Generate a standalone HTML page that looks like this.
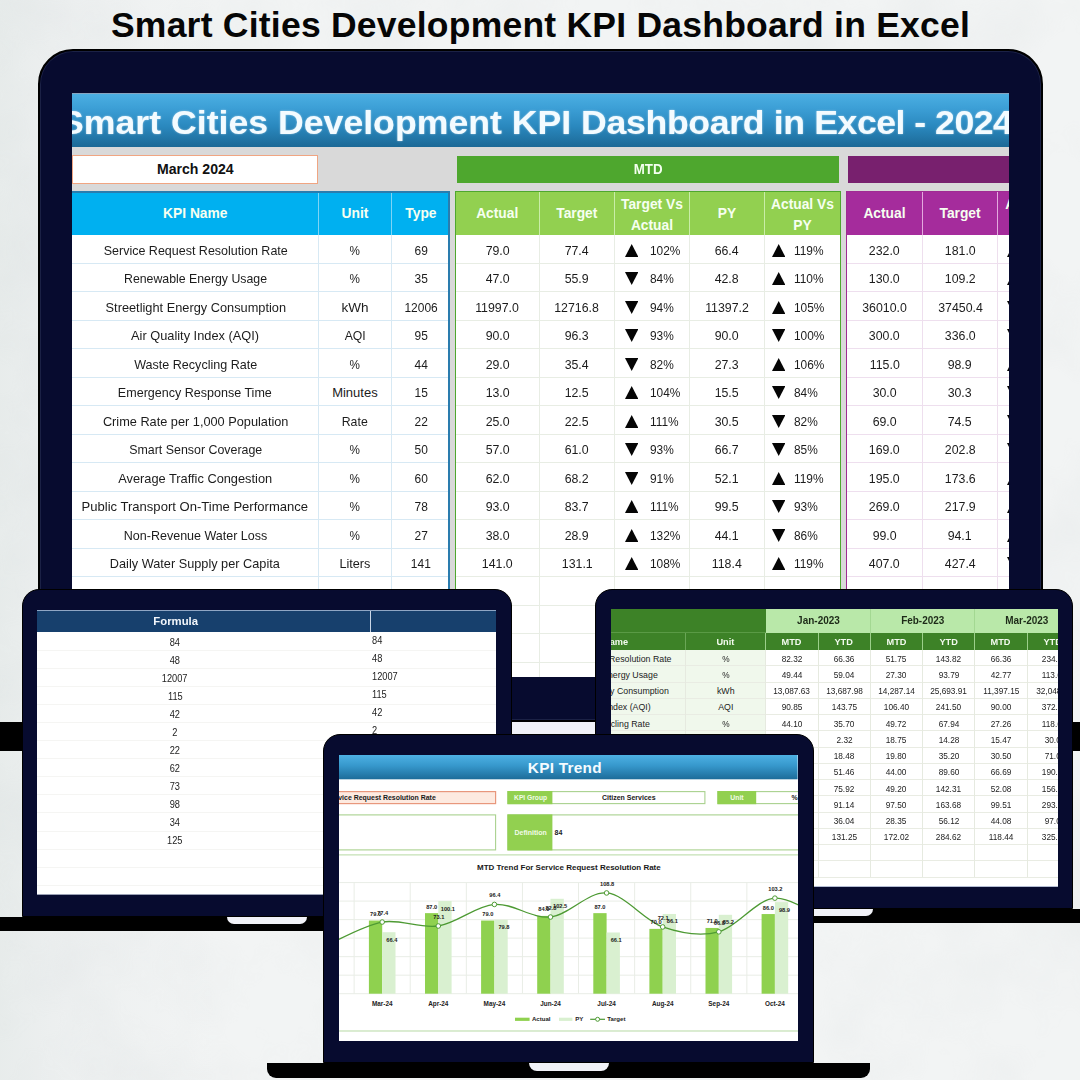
<!DOCTYPE html>
<html lang="en"><head><meta charset="utf-8">
<title>Smart Cities Development KPI Dashboard in Excel</title>
<style>
*{box-sizing:border-box;margin:0;padding:0}
html,body{width:1080px;height:1080px;overflow:hidden}
body{position:relative;background:#f2f4f4;font-family:"Liberation Sans",Arial,sans-serif;color:#1c1c1c}
.abs{position:absolute}
h1{position:absolute;left:.5px;top:2.6px;width:1080px;text-align:center;font-size:35.5px;line-height:44px;font-weight:700;color:#060606;letter-spacing:.23px;white-space:nowrap}
.frame{position:absolute;background:#070b2f;border:1.5px solid #000}
.screen{position:absolute;overflow:hidden;background:#fff}
.bar{position:absolute;background:#000}
.notch{position:absolute;background:#f1f2f8}
.n{display:inline-block;white-space:nowrap;transform:scaleX(.95)}
/* main dashboard */
#m-title{left:0;top:0;width:100%;height:54.5px;background:linear-gradient(#4cb0e3 0%,#3c9fd6 28%,#2a88be 62%,#1c6996 100%)}
#m-title span{position:absolute;left:-12.25px;top:9.7px;font-size:33.8px;line-height:40px;font-weight:700;color:#f3fbff;white-space:pre;text-shadow:0 0 2px rgba(255,255,255,.55);transform:scaleX(1.055);transform-origin:left center}
#m-title i{font-style:normal}
.hd{position:absolute;display:flex;align-items:center;justify-content:center;text-align:center;font-weight:700;font-size:13.8px;line-height:21px;color:#f6fff0}
.cell{position:absolute;display:flex;align-items:center;justify-content:center;font-size:13px;height:28.5px;white-space:nowrap}
.tri{width:13.4px;height:13px;position:absolute;top:7.5px}
.tri polygon{fill:#050505}
.vl{position:absolute;width:1px}
.hl{position:absolute;height:1px}
.hd .n{transform:none}
</style></head><body>

<svg class="abs" style="left:0;top:0" width="1080" height="1080"><defs><filter id="nz" x="0" y="0" width="100%" height="100%"><feTurbulence type="fractalNoise" baseFrequency="0.009" numOctaves="4" seed="7"/><feColorMatrix type="matrix" values="0 0 0 0 0.45  0 0 0 0 0.5  0 0 0 0 0.52  1.6 0 0 0 -0.62"/></filter><linearGradient id="lg" x1="0" x2="1"><stop offset="0" stop-color="#c3d0cc" stop-opacity=".22"/><stop offset=".06" stop-color="#c8d0d2" stop-opacity=".12"/><stop offset=".2" stop-color="#c8d0d2" stop-opacity="0"/></linearGradient></defs><rect width="1080" height="1080" fill="url(#lg)"/><rect width="1080" height="1080" filter="url(#nz)" opacity=".12"/></svg>
<h1>Smart Cities Development KPI Dashboard in Excel</h1>
<div class="bar" style="left:0;top:722px;width:1080px;height:29px"></div>
<div class="notch" style="left:470px;top:721.5px;width:160px;height:13.5px;border-radius:0 0 8px 8px"></div>
<div class="frame" style="left:37.9px;top:49.2px;width:1005.2px;height:672.4px;border-radius:35px;border-width:2.6px;box-shadow:inset 0 0 0 1px #1b2145"></div>
<div class="screen" id="ms" style="left:72.2px;top:92.5px;width:936.5px;height:584.2px;background:#d9d9d9">
<div class="abs" style="left:0;top:0;width:100%;height:1.5px;background:#86a5c0;z-index:2"></div>
<div class="abs" id="m-title"><span><i style="letter-spacing:0px">Smart Cities Development KPI </i><i style="letter-spacing:-.33px">Dashboard in </i><i style="letter-spacing:-.49px">Excel - 2024</i></span></div>
<div class="abs" style="left:0;top:62.5px;width:246.2px;height:28.5px;background:#fff;border:1.5px solid #f0a582;display:flex;align-items:center;justify-content:center;font-weight:700;font-size:14.1px;color:#111"><span>March 2024</span></div>
<div class="abs" style="left:384.8px;top:63.5px;width:382px;height:26.6px;background:#4ea72e;display:flex;align-items:center;justify-content:center;font-weight:700;font-size:14px;color:#f4fff0"><span class="n">MTD</span></div>
<div class="abs" style="left:775.8px;top:63.0px;width:200px;height:27.5px;background:#78206e"></div>
<div class="abs" style="left:-2.200000000000003px;top:98.5px;width:380.4px;height:490.70000000000005px;background:#fff"></div>
<div class="abs" style="left:-2.200000000000003px;top:98.5px;width:380.4px;height:43.80000000000001px;background:#00b0f0"></div>
<div class="hl" style="left:-2.200000000000003px;top:170.30px;width:380.4px;background:#d7e9f4"></div>
<div class="hl" style="left:-2.200000000000003px;top:198.80px;width:380.4px;background:#d7e9f4"></div>
<div class="hl" style="left:-2.200000000000003px;top:227.30px;width:380.4px;background:#d7e9f4"></div>
<div class="hl" style="left:-2.200000000000003px;top:255.80px;width:380.4px;background:#d7e9f4"></div>
<div class="hl" style="left:-2.200000000000003px;top:284.30px;width:380.4px;background:#d7e9f4"></div>
<div class="hl" style="left:-2.200000000000003px;top:312.80px;width:380.4px;background:#d7e9f4"></div>
<div class="hl" style="left:-2.200000000000003px;top:341.30px;width:380.4px;background:#d7e9f4"></div>
<div class="hl" style="left:-2.200000000000003px;top:369.80px;width:380.4px;background:#d7e9f4"></div>
<div class="hl" style="left:-2.200000000000003px;top:398.30px;width:380.4px;background:#d7e9f4"></div>
<div class="hl" style="left:-2.200000000000003px;top:426.80px;width:380.4px;background:#d7e9f4"></div>
<div class="hl" style="left:-2.200000000000003px;top:455.30px;width:380.4px;background:#d7e9f4"></div>
<div class="hl" style="left:-2.200000000000003px;top:483.80px;width:380.4px;background:#d7e9f4"></div>
<div class="hl" style="left:-2.200000000000003px;top:512.30px;width:380.4px;background:#d7e9f4"></div>
<div class="hl" style="left:-2.200000000000003px;top:540.80px;width:380.4px;background:#d7e9f4"></div>
<div class="hl" style="left:-2.200000000000003px;top:569.30px;width:380.4px;background:#d7e9f4"></div>
<div class="vl" style="left:245.70px;top:142.3px;height:441.90000000000003px;background:#d7e9f4"></div>
<div class="vl" style="left:245.70px;top:98.5px;height:43.80000000000001px;background:#7fd4f5"></div>
<div class="vl" style="left:318.80px;top:142.3px;height:441.90000000000003px;background:#d7e9f4"></div>
<div class="vl" style="left:318.80px;top:98.5px;height:43.80000000000001px;background:#7fd4f5"></div>
<div class="abs" style="left:-2.200000000000003px;top:98.5px;width:380.4px;height:490.70000000000005px;border:2px solid #2a7cae;"></div>
<div class="hd" style="left:0.0px;top:100.0px;width:246.2px;height:42.80000000000001px"><span class="n">KPI Name</span></div>
<div class="hd" style="left:246.2px;top:100.0px;width:73.10000000000002px;height:42.80000000000001px"><span class="n">Unit</span></div>
<div class="hd" style="left:319.3px;top:100.0px;width:58.89999999999998px;height:42.80000000000001px"><span class="n">Type</span></div>
<div class="abs" style="left:383.0px;top:98.5px;width:385.40000000000003px;height:490.70000000000005px;background:#fff"></div>
<div class="abs" style="left:383.0px;top:98.5px;width:385.40000000000003px;height:43.80000000000001px;background:#92d050"></div>
<div class="hl" style="left:383.0px;top:170.30px;width:385.40000000000003px;background:#e8ede4"></div>
<div class="hl" style="left:383.0px;top:198.80px;width:385.40000000000003px;background:#e8ede4"></div>
<div class="hl" style="left:383.0px;top:227.30px;width:385.40000000000003px;background:#e8ede4"></div>
<div class="hl" style="left:383.0px;top:255.80px;width:385.40000000000003px;background:#e8ede4"></div>
<div class="hl" style="left:383.0px;top:284.30px;width:385.40000000000003px;background:#e8ede4"></div>
<div class="hl" style="left:383.0px;top:312.80px;width:385.40000000000003px;background:#e8ede4"></div>
<div class="hl" style="left:383.0px;top:341.30px;width:385.40000000000003px;background:#e8ede4"></div>
<div class="hl" style="left:383.0px;top:369.80px;width:385.40000000000003px;background:#e8ede4"></div>
<div class="hl" style="left:383.0px;top:398.30px;width:385.40000000000003px;background:#e8ede4"></div>
<div class="hl" style="left:383.0px;top:426.80px;width:385.40000000000003px;background:#e8ede4"></div>
<div class="hl" style="left:383.0px;top:455.30px;width:385.40000000000003px;background:#e8ede4"></div>
<div class="hl" style="left:383.0px;top:483.80px;width:385.40000000000003px;background:#e8ede4"></div>
<div class="hl" style="left:383.0px;top:512.30px;width:385.40000000000003px;background:#e8ede4"></div>
<div class="hl" style="left:383.0px;top:540.80px;width:385.40000000000003px;background:#e8ede4"></div>
<div class="hl" style="left:383.0px;top:569.30px;width:385.40000000000003px;background:#e8ede4"></div>
<div class="vl" style="left:466.60px;top:142.3px;height:441.90000000000003px;background:#e8ede4"></div>
<div class="vl" style="left:466.60px;top:98.5px;height:43.80000000000001px;background:#c9eda8"></div>
<div class="vl" style="left:541.70px;top:142.3px;height:441.90000000000003px;background:#e8ede4"></div>
<div class="vl" style="left:541.70px;top:98.5px;height:43.80000000000001px;background:#c9eda8"></div>
<div class="vl" style="left:616.90px;top:142.3px;height:441.90000000000003px;background:#e8ede4"></div>
<div class="vl" style="left:616.90px;top:98.5px;height:43.80000000000001px;background:#c9eda8"></div>
<div class="vl" style="left:691.70px;top:142.3px;height:441.90000000000003px;background:#e8ede4"></div>
<div class="vl" style="left:691.70px;top:98.5px;height:43.80000000000001px;background:#c9eda8"></div>
<div class="abs" style="left:383.0px;top:98.5px;width:385.40000000000003px;height:490.70000000000005px;border:1.8px solid #4ea72e;"></div>
<div class="hd" style="left:383.0px;top:100.0px;width:84.09999999999997px;height:42.80000000000001px"><span class="n">Actual</span></div>
<div class="hd" style="left:467.09999999999997px;top:100.0px;width:75.10000000000002px;height:42.80000000000001px"><span class="n">Target</span></div>
<div class="hd" style="left:542.1999999999999px;top:101.5px;width:75.20000000000005px;height:42.80000000000001px"><span class="n">Target Vs<br>Actual</span></div>
<div class="hd" style="left:617.4px;top:100.0px;width:74.79999999999995px;height:42.80000000000001px"><span class="n">PY</span></div>
<div class="hd" style="left:692.1999999999999px;top:101.5px;width:76.20000000000005px;height:42.80000000000001px"><span class="n">Actual Vs<br>PY</span></div>
<div class="abs" style="left:774.1999999999999px;top:98.5px;width:225.60000000000002px;height:490.70000000000005px;background:#fff"></div>
<div class="abs" style="left:774.1999999999999px;top:98.5px;width:225.60000000000002px;height:43.80000000000001px;background:#a52c9c"></div>
<div class="hl" style="left:774.1999999999999px;top:170.30px;width:225.60000000000002px;background:#eedfee"></div>
<div class="hl" style="left:774.1999999999999px;top:198.80px;width:225.60000000000002px;background:#eedfee"></div>
<div class="hl" style="left:774.1999999999999px;top:227.30px;width:225.60000000000002px;background:#eedfee"></div>
<div class="hl" style="left:774.1999999999999px;top:255.80px;width:225.60000000000002px;background:#eedfee"></div>
<div class="hl" style="left:774.1999999999999px;top:284.30px;width:225.60000000000002px;background:#eedfee"></div>
<div class="hl" style="left:774.1999999999999px;top:312.80px;width:225.60000000000002px;background:#eedfee"></div>
<div class="hl" style="left:774.1999999999999px;top:341.30px;width:225.60000000000002px;background:#eedfee"></div>
<div class="hl" style="left:774.1999999999999px;top:369.80px;width:225.60000000000002px;background:#eedfee"></div>
<div class="hl" style="left:774.1999999999999px;top:398.30px;width:225.60000000000002px;background:#eedfee"></div>
<div class="hl" style="left:774.1999999999999px;top:426.80px;width:225.60000000000002px;background:#eedfee"></div>
<div class="hl" style="left:774.1999999999999px;top:455.30px;width:225.60000000000002px;background:#eedfee"></div>
<div class="hl" style="left:774.1999999999999px;top:483.80px;width:225.60000000000002px;background:#eedfee"></div>
<div class="hl" style="left:774.1999999999999px;top:512.30px;width:225.60000000000002px;background:#eedfee"></div>
<div class="hl" style="left:774.1999999999999px;top:540.80px;width:225.60000000000002px;background:#eedfee"></div>
<div class="hl" style="left:774.1999999999999px;top:569.30px;width:225.60000000000002px;background:#eedfee"></div>
<div class="vl" style="left:849.90px;top:142.3px;height:441.90000000000003px;background:#eedfee"></div>
<div class="vl" style="left:849.90px;top:98.5px;height:43.80000000000001px;background:#e3a9de"></div>
<div class="vl" style="left:924.90px;top:142.3px;height:441.90000000000003px;background:#eedfee"></div>
<div class="vl" style="left:924.90px;top:98.5px;height:43.80000000000001px;background:#e3a9de"></div>
<div class="abs" style="left:774.1999999999999px;top:98.5px;width:225.60000000000002px;height:490.70000000000005px;border:1.8px solid #a02b93;border-right:0;"></div>
<div class="hd" style="left:774.1999999999999px;top:100.0px;width:76.20000000000005px;height:42.80000000000001px"><span class="n">Actual</span></div>
<div class="hd" style="left:850.4px;top:100.0px;width:75.0px;height:42.80000000000001px"><span class="n">Target</span></div>
<div class="hd" style="left:927.4px;top:101.5px;width:74.39999999999998px;height:42.80000000000001px"><span class="n">Actual Vs<br>Target</span></div>
<div class="cell" style="left:0.0px;top:143.70px;width:246.2px"><span class="n" style="transform:scaleX(0.961)">Service Request Resolution Rate</span></div>
<div class="cell" style="left:246.2px;top:143.70px;width:73.10000000000002px"><span class="n" style="transform:scaleX(0.9)">%</span></div>
<div class="cell" style="left:319.3px;top:143.70px;width:58.89999999999998px"><span class="n" style="transform:scaleX(0.92)">69</span></div>
<div class="cell" style="left:383.0px;top:143.70px;width:84.09999999999997px"><span class="n" style="transform:scaleX(0.95)">79.0</span></div>
<div class="cell" style="left:467.09999999999997px;top:143.70px;width:75.10000000000002px"><span class="n" style="transform:scaleX(0.95)">77.4</span></div>
<div class="cell" style="left:542.1999999999999px;top:143.70px;width:75.20000000000005px"><svg style='left:10.199999999999978px' class="tri" viewBox="0 0 13 12" preserveAspectRatio="none"><polygon points="6.5,0 13,12 0,12"/></svg><span class="n" style="position:absolute;left:35.60000000000002px;transform-origin:left center;transform:scaleX(.915)">102%</span></div>
<div class="cell" style="left:617.4px;top:143.70px;width:74.79999999999995px"><span class="n" style="transform:scaleX(0.95)">66.4</span></div>
<div class="cell" style="left:692.1999999999999px;top:143.70px;width:76.20000000000005px"><svg style='left:7.199999999999977px' class="tri" viewBox="0 0 13 12" preserveAspectRatio="none"><polygon points="6.5,0 13,12 0,12"/></svg><span class="n" style="position:absolute;left:30.100000000000023px;transform-origin:left center;transform:scaleX(.915)">119%</span></div>
<div class="cell" style="left:774.1999999999999px;top:143.70px;width:76.20000000000005px"><span class="n" style="transform:scaleX(0.95)">232.0</span></div>
<div class="cell" style="left:850.4px;top:143.70px;width:75.0px"><span class="n" style="transform:scaleX(0.95)">181.0</span></div>
<div class="cell" style="left:925.4px;top:143.70px;width:74.39999999999998px"><svg style='left:9.099999999999955px' class="tri" viewBox="0 0 13 12" preserveAspectRatio="none"><polygon points="6.5,0 13,12 0,12"/></svg><span class="n" style="position:absolute;left:33.39999999999998px;transform-origin:left center;transform:scaleX(.915)">100%</span></div>
<div class="cell" style="left:0.0px;top:172.20px;width:246.2px"><span class="n" style="transform:scaleX(0.947)">Renewable Energy Usage</span></div>
<div class="cell" style="left:246.2px;top:172.20px;width:73.10000000000002px"><span class="n" style="transform:scaleX(0.9)">%</span></div>
<div class="cell" style="left:319.3px;top:172.20px;width:58.89999999999998px"><span class="n" style="transform:scaleX(0.92)">35</span></div>
<div class="cell" style="left:383.0px;top:172.20px;width:84.09999999999997px"><span class="n" style="transform:scaleX(0.95)">47.0</span></div>
<div class="cell" style="left:467.09999999999997px;top:172.20px;width:75.10000000000002px"><span class="n" style="transform:scaleX(0.95)">55.9</span></div>
<div class="cell" style="left:542.1999999999999px;top:172.20px;width:75.20000000000005px"><svg style='left:10.199999999999978px' class="tri" viewBox="0 0 13 12" preserveAspectRatio="none"><polygon points="0,0 13,0 6.5,12"/></svg><span class="n" style="position:absolute;left:35.60000000000002px;transform-origin:left center;transform:scaleX(.915)">84%</span></div>
<div class="cell" style="left:617.4px;top:172.20px;width:74.79999999999995px"><span class="n" style="transform:scaleX(0.95)">42.8</span></div>
<div class="cell" style="left:692.1999999999999px;top:172.20px;width:76.20000000000005px"><svg style='left:7.199999999999977px' class="tri" viewBox="0 0 13 12" preserveAspectRatio="none"><polygon points="6.5,0 13,12 0,12"/></svg><span class="n" style="position:absolute;left:30.100000000000023px;transform-origin:left center;transform:scaleX(.915)">110%</span></div>
<div class="cell" style="left:774.1999999999999px;top:172.20px;width:76.20000000000005px"><span class="n" style="transform:scaleX(0.95)">130.0</span></div>
<div class="cell" style="left:850.4px;top:172.20px;width:75.0px"><span class="n" style="transform:scaleX(0.95)">109.2</span></div>
<div class="cell" style="left:925.4px;top:172.20px;width:74.39999999999998px"><svg style='left:9.099999999999955px' class="tri" viewBox="0 0 13 12" preserveAspectRatio="none"><polygon points="6.5,0 13,12 0,12"/></svg><span class="n" style="position:absolute;left:33.39999999999998px;transform-origin:left center;transform:scaleX(.915)">100%</span></div>
<div class="cell" style="left:0.0px;top:200.70px;width:246.2px"><span class="n" style="transform:scaleX(0.983)">Streetlight Energy Consumption</span></div>
<div class="cell" style="left:246.2px;top:200.70px;width:73.10000000000002px"><span class="n" style="transform:scaleX(1.04)">kWh</span></div>
<div class="cell" style="left:319.3px;top:200.70px;width:58.89999999999998px"><span class="n" style="transform:scaleX(0.92)">12006</span></div>
<div class="cell" style="left:383.0px;top:200.70px;width:84.09999999999997px"><span class="n" style="transform:scaleX(0.95)">11997.0</span></div>
<div class="cell" style="left:467.09999999999997px;top:200.70px;width:75.10000000000002px"><span class="n" style="transform:scaleX(0.95)">12716.8</span></div>
<div class="cell" style="left:542.1999999999999px;top:200.70px;width:75.20000000000005px"><svg style='left:10.199999999999978px' class="tri" viewBox="0 0 13 12" preserveAspectRatio="none"><polygon points="0,0 13,0 6.5,12"/></svg><span class="n" style="position:absolute;left:35.60000000000002px;transform-origin:left center;transform:scaleX(.915)">94%</span></div>
<div class="cell" style="left:617.4px;top:200.70px;width:74.79999999999995px"><span class="n" style="transform:scaleX(0.95)">11397.2</span></div>
<div class="cell" style="left:692.1999999999999px;top:200.70px;width:76.20000000000005px"><svg style='left:7.199999999999977px' class="tri" viewBox="0 0 13 12" preserveAspectRatio="none"><polygon points="6.5,0 13,12 0,12"/></svg><span class="n" style="position:absolute;left:30.100000000000023px;transform-origin:left center;transform:scaleX(.915)">105%</span></div>
<div class="cell" style="left:774.1999999999999px;top:200.70px;width:76.20000000000005px"><span class="n" style="transform:scaleX(0.95)">36010.0</span></div>
<div class="cell" style="left:850.4px;top:200.70px;width:75.0px"><span class="n" style="transform:scaleX(0.95)">37450.4</span></div>
<div class="cell" style="left:925.4px;top:200.70px;width:74.39999999999998px"><svg style='left:9.099999999999955px' class="tri" viewBox="0 0 13 12" preserveAspectRatio="none"><polygon points="0,0 13,0 6.5,12"/></svg><span class="n" style="position:absolute;left:33.39999999999998px;transform-origin:left center;transform:scaleX(.915)">100%</span></div>
<div class="cell" style="left:0.0px;top:229.20px;width:246.2px"><span class="n" style="transform:scaleX(0.984)">Air Quality Index (AQI)</span></div>
<div class="cell" style="left:246.2px;top:229.20px;width:73.10000000000002px"><span class="n" style="transform:scaleX(0.94)">AQI</span></div>
<div class="cell" style="left:319.3px;top:229.20px;width:58.89999999999998px"><span class="n" style="transform:scaleX(0.92)">95</span></div>
<div class="cell" style="left:383.0px;top:229.20px;width:84.09999999999997px"><span class="n" style="transform:scaleX(0.95)">90.0</span></div>
<div class="cell" style="left:467.09999999999997px;top:229.20px;width:75.10000000000002px"><span class="n" style="transform:scaleX(0.95)">96.3</span></div>
<div class="cell" style="left:542.1999999999999px;top:229.20px;width:75.20000000000005px"><svg style='left:10.199999999999978px' class="tri" viewBox="0 0 13 12" preserveAspectRatio="none"><polygon points="0,0 13,0 6.5,12"/></svg><span class="n" style="position:absolute;left:35.60000000000002px;transform-origin:left center;transform:scaleX(.915)">93%</span></div>
<div class="cell" style="left:617.4px;top:229.20px;width:74.79999999999995px"><span class="n" style="transform:scaleX(0.95)">90.0</span></div>
<div class="cell" style="left:692.1999999999999px;top:229.20px;width:76.20000000000005px"><svg style='left:7.199999999999977px' class="tri" viewBox="0 0 13 12" preserveAspectRatio="none"><polygon points="0,0 13,0 6.5,12"/></svg><span class="n" style="position:absolute;left:30.100000000000023px;transform-origin:left center;transform:scaleX(.915)">100%</span></div>
<div class="cell" style="left:774.1999999999999px;top:229.20px;width:76.20000000000005px"><span class="n" style="transform:scaleX(0.95)">300.0</span></div>
<div class="cell" style="left:850.4px;top:229.20px;width:75.0px"><span class="n" style="transform:scaleX(0.95)">336.0</span></div>
<div class="cell" style="left:925.4px;top:229.20px;width:74.39999999999998px"><svg style='left:9.099999999999955px' class="tri" viewBox="0 0 13 12" preserveAspectRatio="none"><polygon points="0,0 13,0 6.5,12"/></svg><span class="n" style="position:absolute;left:33.39999999999998px;transform-origin:left center;transform:scaleX(.915)">100%</span></div>
<div class="cell" style="left:0.0px;top:257.70px;width:246.2px"><span class="n" style="transform:scaleX(0.965)">Waste Recycling Rate</span></div>
<div class="cell" style="left:246.2px;top:257.70px;width:73.10000000000002px"><span class="n" style="transform:scaleX(0.9)">%</span></div>
<div class="cell" style="left:319.3px;top:257.70px;width:58.89999999999998px"><span class="n" style="transform:scaleX(0.92)">44</span></div>
<div class="cell" style="left:383.0px;top:257.70px;width:84.09999999999997px"><span class="n" style="transform:scaleX(0.95)">29.0</span></div>
<div class="cell" style="left:467.09999999999997px;top:257.70px;width:75.10000000000002px"><span class="n" style="transform:scaleX(0.95)">35.4</span></div>
<div class="cell" style="left:542.1999999999999px;top:257.70px;width:75.20000000000005px"><svg style='left:10.199999999999978px' class="tri" viewBox="0 0 13 12" preserveAspectRatio="none"><polygon points="0,0 13,0 6.5,12"/></svg><span class="n" style="position:absolute;left:35.60000000000002px;transform-origin:left center;transform:scaleX(.915)">82%</span></div>
<div class="cell" style="left:617.4px;top:257.70px;width:74.79999999999995px"><span class="n" style="transform:scaleX(0.95)">27.3</span></div>
<div class="cell" style="left:692.1999999999999px;top:257.70px;width:76.20000000000005px"><svg style='left:7.199999999999977px' class="tri" viewBox="0 0 13 12" preserveAspectRatio="none"><polygon points="6.5,0 13,12 0,12"/></svg><span class="n" style="position:absolute;left:30.100000000000023px;transform-origin:left center;transform:scaleX(.915)">106%</span></div>
<div class="cell" style="left:774.1999999999999px;top:257.70px;width:76.20000000000005px"><span class="n" style="transform:scaleX(0.95)">115.0</span></div>
<div class="cell" style="left:850.4px;top:257.70px;width:75.0px"><span class="n" style="transform:scaleX(0.95)">98.9</span></div>
<div class="cell" style="left:925.4px;top:257.70px;width:74.39999999999998px"><svg style='left:9.099999999999955px' class="tri" viewBox="0 0 13 12" preserveAspectRatio="none"><polygon points="6.5,0 13,12 0,12"/></svg><span class="n" style="position:absolute;left:33.39999999999998px;transform-origin:left center;transform:scaleX(.915)">100%</span></div>
<div class="cell" style="left:0.0px;top:286.20px;width:246.2px"><span class="n" style="transform:scaleX(0.964)">Emergency Response Time</span></div>
<div class="cell" style="left:246.2px;top:286.20px;width:73.10000000000002px"><span class="n" style="transform:scaleX(1.0)">Minutes</span></div>
<div class="cell" style="left:319.3px;top:286.20px;width:58.89999999999998px"><span class="n" style="transform:scaleX(0.92)">15</span></div>
<div class="cell" style="left:383.0px;top:286.20px;width:84.09999999999997px"><span class="n" style="transform:scaleX(0.95)">13.0</span></div>
<div class="cell" style="left:467.09999999999997px;top:286.20px;width:75.10000000000002px"><span class="n" style="transform:scaleX(0.95)">12.5</span></div>
<div class="cell" style="left:542.1999999999999px;top:286.20px;width:75.20000000000005px"><svg style='left:10.199999999999978px' class="tri" viewBox="0 0 13 12" preserveAspectRatio="none"><polygon points="6.5,0 13,12 0,12"/></svg><span class="n" style="position:absolute;left:35.60000000000002px;transform-origin:left center;transform:scaleX(.915)">104%</span></div>
<div class="cell" style="left:617.4px;top:286.20px;width:74.79999999999995px"><span class="n" style="transform:scaleX(0.95)">15.5</span></div>
<div class="cell" style="left:692.1999999999999px;top:286.20px;width:76.20000000000005px"><svg style='left:7.199999999999977px' class="tri" viewBox="0 0 13 12" preserveAspectRatio="none"><polygon points="0,0 13,0 6.5,12"/></svg><span class="n" style="position:absolute;left:30.100000000000023px;transform-origin:left center;transform:scaleX(.915)">84%</span></div>
<div class="cell" style="left:774.1999999999999px;top:286.20px;width:76.20000000000005px"><span class="n" style="transform:scaleX(0.95)">30.0</span></div>
<div class="cell" style="left:850.4px;top:286.20px;width:75.0px"><span class="n" style="transform:scaleX(0.95)">30.3</span></div>
<div class="cell" style="left:925.4px;top:286.20px;width:74.39999999999998px"><svg style='left:9.099999999999955px' class="tri" viewBox="0 0 13 12" preserveAspectRatio="none"><polygon points="0,0 13,0 6.5,12"/></svg><span class="n" style="position:absolute;left:33.39999999999998px;transform-origin:left center;transform:scaleX(.915)">100%</span></div>
<div class="cell" style="left:0.0px;top:314.70px;width:246.2px"><span class="n" style="transform:scaleX(0.98)">Crime Rate per 1,000 Population</span></div>
<div class="cell" style="left:246.2px;top:314.70px;width:73.10000000000002px"><span class="n" style="transform:scaleX(0.946)">Rate</span></div>
<div class="cell" style="left:319.3px;top:314.70px;width:58.89999999999998px"><span class="n" style="transform:scaleX(0.92)">22</span></div>
<div class="cell" style="left:383.0px;top:314.70px;width:84.09999999999997px"><span class="n" style="transform:scaleX(0.95)">25.0</span></div>
<div class="cell" style="left:467.09999999999997px;top:314.70px;width:75.10000000000002px"><span class="n" style="transform:scaleX(0.95)">22.5</span></div>
<div class="cell" style="left:542.1999999999999px;top:314.70px;width:75.20000000000005px"><svg style='left:10.199999999999978px' class="tri" viewBox="0 0 13 12" preserveAspectRatio="none"><polygon points="6.5,0 13,12 0,12"/></svg><span class="n" style="position:absolute;left:35.60000000000002px;transform-origin:left center;transform:scaleX(.915)">111%</span></div>
<div class="cell" style="left:617.4px;top:314.70px;width:74.79999999999995px"><span class="n" style="transform:scaleX(0.95)">30.5</span></div>
<div class="cell" style="left:692.1999999999999px;top:314.70px;width:76.20000000000005px"><svg style='left:7.199999999999977px' class="tri" viewBox="0 0 13 12" preserveAspectRatio="none"><polygon points="0,0 13,0 6.5,12"/></svg><span class="n" style="position:absolute;left:30.100000000000023px;transform-origin:left center;transform:scaleX(.915)">82%</span></div>
<div class="cell" style="left:774.1999999999999px;top:314.70px;width:76.20000000000005px"><span class="n" style="transform:scaleX(0.95)">69.0</span></div>
<div class="cell" style="left:850.4px;top:314.70px;width:75.0px"><span class="n" style="transform:scaleX(0.95)">74.5</span></div>
<div class="cell" style="left:925.4px;top:314.70px;width:74.39999999999998px"><svg style='left:9.099999999999955px' class="tri" viewBox="0 0 13 12" preserveAspectRatio="none"><polygon points="0,0 13,0 6.5,12"/></svg><span class="n" style="position:absolute;left:33.39999999999998px;transform-origin:left center;transform:scaleX(.915)">100%</span></div>
<div class="cell" style="left:0.0px;top:343.20px;width:246.2px"><span class="n" style="transform:scaleX(0.954)">Smart Sensor Coverage</span></div>
<div class="cell" style="left:246.2px;top:343.20px;width:73.10000000000002px"><span class="n" style="transform:scaleX(0.9)">%</span></div>
<div class="cell" style="left:319.3px;top:343.20px;width:58.89999999999998px"><span class="n" style="transform:scaleX(0.92)">50</span></div>
<div class="cell" style="left:383.0px;top:343.20px;width:84.09999999999997px"><span class="n" style="transform:scaleX(0.95)">57.0</span></div>
<div class="cell" style="left:467.09999999999997px;top:343.20px;width:75.10000000000002px"><span class="n" style="transform:scaleX(0.95)">61.0</span></div>
<div class="cell" style="left:542.1999999999999px;top:343.20px;width:75.20000000000005px"><svg style='left:10.199999999999978px' class="tri" viewBox="0 0 13 12" preserveAspectRatio="none"><polygon points="0,0 13,0 6.5,12"/></svg><span class="n" style="position:absolute;left:35.60000000000002px;transform-origin:left center;transform:scaleX(.915)">93%</span></div>
<div class="cell" style="left:617.4px;top:343.20px;width:74.79999999999995px"><span class="n" style="transform:scaleX(0.95)">66.7</span></div>
<div class="cell" style="left:692.1999999999999px;top:343.20px;width:76.20000000000005px"><svg style='left:7.199999999999977px' class="tri" viewBox="0 0 13 12" preserveAspectRatio="none"><polygon points="0,0 13,0 6.5,12"/></svg><span class="n" style="position:absolute;left:30.100000000000023px;transform-origin:left center;transform:scaleX(.915)">85%</span></div>
<div class="cell" style="left:774.1999999999999px;top:343.20px;width:76.20000000000005px"><span class="n" style="transform:scaleX(0.95)">169.0</span></div>
<div class="cell" style="left:850.4px;top:343.20px;width:75.0px"><span class="n" style="transform:scaleX(0.95)">202.8</span></div>
<div class="cell" style="left:925.4px;top:343.20px;width:74.39999999999998px"><svg style='left:9.099999999999955px' class="tri" viewBox="0 0 13 12" preserveAspectRatio="none"><polygon points="0,0 13,0 6.5,12"/></svg><span class="n" style="position:absolute;left:33.39999999999998px;transform-origin:left center;transform:scaleX(.915)">100%</span></div>
<div class="cell" style="left:0.0px;top:371.70px;width:246.2px"><span class="n" style="transform:scaleX(0.985)">Average Traffic Congestion</span></div>
<div class="cell" style="left:246.2px;top:371.70px;width:73.10000000000002px"><span class="n" style="transform:scaleX(0.9)">%</span></div>
<div class="cell" style="left:319.3px;top:371.70px;width:58.89999999999998px"><span class="n" style="transform:scaleX(0.92)">60</span></div>
<div class="cell" style="left:383.0px;top:371.70px;width:84.09999999999997px"><span class="n" style="transform:scaleX(0.95)">62.0</span></div>
<div class="cell" style="left:467.09999999999997px;top:371.70px;width:75.10000000000002px"><span class="n" style="transform:scaleX(0.95)">68.2</span></div>
<div class="cell" style="left:542.1999999999999px;top:371.70px;width:75.20000000000005px"><svg style='left:10.199999999999978px' class="tri" viewBox="0 0 13 12" preserveAspectRatio="none"><polygon points="0,0 13,0 6.5,12"/></svg><span class="n" style="position:absolute;left:35.60000000000002px;transform-origin:left center;transform:scaleX(.915)">91%</span></div>
<div class="cell" style="left:617.4px;top:371.70px;width:74.79999999999995px"><span class="n" style="transform:scaleX(0.95)">52.1</span></div>
<div class="cell" style="left:692.1999999999999px;top:371.70px;width:76.20000000000005px"><svg style='left:7.199999999999977px' class="tri" viewBox="0 0 13 12" preserveAspectRatio="none"><polygon points="6.5,0 13,12 0,12"/></svg><span class="n" style="position:absolute;left:30.100000000000023px;transform-origin:left center;transform:scaleX(.915)">119%</span></div>
<div class="cell" style="left:774.1999999999999px;top:371.70px;width:76.20000000000005px"><span class="n" style="transform:scaleX(0.95)">195.0</span></div>
<div class="cell" style="left:850.4px;top:371.70px;width:75.0px"><span class="n" style="transform:scaleX(0.95)">173.6</span></div>
<div class="cell" style="left:925.4px;top:371.70px;width:74.39999999999998px"><svg style='left:9.099999999999955px' class="tri" viewBox="0 0 13 12" preserveAspectRatio="none"><polygon points="6.5,0 13,12 0,12"/></svg><span class="n" style="position:absolute;left:33.39999999999998px;transform-origin:left center;transform:scaleX(.915)">100%</span></div>
<div class="cell" style="left:0.0px;top:400.20px;width:246.2px"><span class="n" style="transform:scaleX(1.004)">Public Transport On-Time Performance</span></div>
<div class="cell" style="left:246.2px;top:400.20px;width:73.10000000000002px"><span class="n" style="transform:scaleX(0.9)">%</span></div>
<div class="cell" style="left:319.3px;top:400.20px;width:58.89999999999998px"><span class="n" style="transform:scaleX(0.92)">78</span></div>
<div class="cell" style="left:383.0px;top:400.20px;width:84.09999999999997px"><span class="n" style="transform:scaleX(0.95)">93.0</span></div>
<div class="cell" style="left:467.09999999999997px;top:400.20px;width:75.10000000000002px"><span class="n" style="transform:scaleX(0.95)">83.7</span></div>
<div class="cell" style="left:542.1999999999999px;top:400.20px;width:75.20000000000005px"><svg style='left:10.199999999999978px' class="tri" viewBox="0 0 13 12" preserveAspectRatio="none"><polygon points="6.5,0 13,12 0,12"/></svg><span class="n" style="position:absolute;left:35.60000000000002px;transform-origin:left center;transform:scaleX(.915)">111%</span></div>
<div class="cell" style="left:617.4px;top:400.20px;width:74.79999999999995px"><span class="n" style="transform:scaleX(0.95)">99.5</span></div>
<div class="cell" style="left:692.1999999999999px;top:400.20px;width:76.20000000000005px"><svg style='left:7.199999999999977px' class="tri" viewBox="0 0 13 12" preserveAspectRatio="none"><polygon points="0,0 13,0 6.5,12"/></svg><span class="n" style="position:absolute;left:30.100000000000023px;transform-origin:left center;transform:scaleX(.915)">93%</span></div>
<div class="cell" style="left:774.1999999999999px;top:400.20px;width:76.20000000000005px"><span class="n" style="transform:scaleX(0.95)">269.0</span></div>
<div class="cell" style="left:850.4px;top:400.20px;width:75.0px"><span class="n" style="transform:scaleX(0.95)">217.9</span></div>
<div class="cell" style="left:925.4px;top:400.20px;width:74.39999999999998px"><svg style='left:9.099999999999955px' class="tri" viewBox="0 0 13 12" preserveAspectRatio="none"><polygon points="6.5,0 13,12 0,12"/></svg><span class="n" style="position:absolute;left:33.39999999999998px;transform-origin:left center;transform:scaleX(.915)">100%</span></div>
<div class="cell" style="left:0.0px;top:428.70px;width:246.2px"><span class="n" style="transform:scaleX(0.9625)">Non-Revenue Water Loss</span></div>
<div class="cell" style="left:246.2px;top:428.70px;width:73.10000000000002px"><span class="n" style="transform:scaleX(0.9)">%</span></div>
<div class="cell" style="left:319.3px;top:428.70px;width:58.89999999999998px"><span class="n" style="transform:scaleX(0.92)">27</span></div>
<div class="cell" style="left:383.0px;top:428.70px;width:84.09999999999997px"><span class="n" style="transform:scaleX(0.95)">38.0</span></div>
<div class="cell" style="left:467.09999999999997px;top:428.70px;width:75.10000000000002px"><span class="n" style="transform:scaleX(0.95)">28.9</span></div>
<div class="cell" style="left:542.1999999999999px;top:428.70px;width:75.20000000000005px"><svg style='left:10.199999999999978px' class="tri" viewBox="0 0 13 12" preserveAspectRatio="none"><polygon points="6.5,0 13,12 0,12"/></svg><span class="n" style="position:absolute;left:35.60000000000002px;transform-origin:left center;transform:scaleX(.915)">132%</span></div>
<div class="cell" style="left:617.4px;top:428.70px;width:74.79999999999995px"><span class="n" style="transform:scaleX(0.95)">44.1</span></div>
<div class="cell" style="left:692.1999999999999px;top:428.70px;width:76.20000000000005px"><svg style='left:7.199999999999977px' class="tri" viewBox="0 0 13 12" preserveAspectRatio="none"><polygon points="0,0 13,0 6.5,12"/></svg><span class="n" style="position:absolute;left:30.100000000000023px;transform-origin:left center;transform:scaleX(.915)">86%</span></div>
<div class="cell" style="left:774.1999999999999px;top:428.70px;width:76.20000000000005px"><span class="n" style="transform:scaleX(0.95)">99.0</span></div>
<div class="cell" style="left:850.4px;top:428.70px;width:75.0px"><span class="n" style="transform:scaleX(0.95)">94.1</span></div>
<div class="cell" style="left:925.4px;top:428.70px;width:74.39999999999998px"><svg style='left:9.099999999999955px' class="tri" viewBox="0 0 13 12" preserveAspectRatio="none"><polygon points="6.5,0 13,12 0,12"/></svg><span class="n" style="position:absolute;left:33.39999999999998px;transform-origin:left center;transform:scaleX(.915)">100%</span></div>
<div class="cell" style="left:0.0px;top:457.20px;width:246.2px"><span class="n" style="transform:scaleX(0.979)">Daily Water Supply per Capita</span></div>
<div class="cell" style="left:246.2px;top:457.20px;width:73.10000000000002px"><span class="n" style="transform:scaleX(0.975)">Liters</span></div>
<div class="cell" style="left:319.3px;top:457.20px;width:58.89999999999998px"><span class="n" style="transform:scaleX(0.92)">141</span></div>
<div class="cell" style="left:383.0px;top:457.20px;width:84.09999999999997px"><span class="n" style="transform:scaleX(0.95)">141.0</span></div>
<div class="cell" style="left:467.09999999999997px;top:457.20px;width:75.10000000000002px"><span class="n" style="transform:scaleX(0.95)">131.1</span></div>
<div class="cell" style="left:542.1999999999999px;top:457.20px;width:75.20000000000005px"><svg style='left:10.199999999999978px' class="tri" viewBox="0 0 13 12" preserveAspectRatio="none"><polygon points="6.5,0 13,12 0,12"/></svg><span class="n" style="position:absolute;left:35.60000000000002px;transform-origin:left center;transform:scaleX(.915)">108%</span></div>
<div class="cell" style="left:617.4px;top:457.20px;width:74.79999999999995px"><span class="n" style="transform:scaleX(0.95)">118.4</span></div>
<div class="cell" style="left:692.1999999999999px;top:457.20px;width:76.20000000000005px"><svg style='left:7.199999999999977px' class="tri" viewBox="0 0 13 12" preserveAspectRatio="none"><polygon points="6.5,0 13,12 0,12"/></svg><span class="n" style="position:absolute;left:30.100000000000023px;transform-origin:left center;transform:scaleX(.915)">119%</span></div>
<div class="cell" style="left:774.1999999999999px;top:457.20px;width:76.20000000000005px"><span class="n" style="transform:scaleX(0.95)">407.0</span></div>
<div class="cell" style="left:850.4px;top:457.20px;width:75.0px"><span class="n" style="transform:scaleX(0.95)">427.4</span></div>
<div class="cell" style="left:925.4px;top:457.20px;width:74.39999999999998px"><svg style='left:9.099999999999955px' class="tri" viewBox="0 0 13 12" preserveAspectRatio="none"><polygon points="0,0 13,0 6.5,12"/></svg><span class="n" style="position:absolute;left:33.39999999999998px;transform-origin:left center;transform:scaleX(.915)">100%</span></div>
</div>
<div class="bar" style="left:0;top:916.7px;width:330px;height:14.5px"></div>
<div class="notch" style="left:226.7px;top:916px;width:80px;height:8.4px;border-radius:0 0 7px 7px"></div>
<div class="frame" style="left:21.6px;top:588.7px;width:490.6px;height:328.3px;border-radius:17px 17px 0 0"></div>
<div class="screen" style="left:37.0px;top:609.6px;width:459.0px;height:285.4px;border-top:1px solid #8fa6c4;border-bottom:1.5px solid #9aa0b4">
<div class="abs" style="left:0;top:0;width:100%;height:21.4px;background:#17406d"></div>
<div class="vl" style="left:332.8px;top:0;height:21.4px;background:#c9d6e6"></div>
<div class="abs" style="left:0;top:0;width:277.6px;height:21.4px;display:flex;align-items:center;justify-content:center;font-weight:700;font-size:11px;color:#f2f6fb"><span class="n" style="transform:scaleX(1.03)">Formula</span></div>
<div class="hl" style="left:0;top:39.00px;width:100%;background:#f5f5f3"></div>
<div class="hl" style="left:0;top:57.10px;width:100%;background:#f5f5f3"></div>
<div class="hl" style="left:0;top:75.20px;width:100%;background:#f5f5f3"></div>
<div class="hl" style="left:0;top:93.30px;width:100%;background:#f5f5f3"></div>
<div class="hl" style="left:0;top:111.40px;width:100%;background:#f5f5f3"></div>
<div class="hl" style="left:0;top:129.50px;width:100%;background:#f5f5f3"></div>
<div class="hl" style="left:0;top:147.60px;width:100%;background:#f5f5f3"></div>
<div class="hl" style="left:0;top:165.70px;width:100%;background:#f5f5f3"></div>
<div class="hl" style="left:0;top:183.80px;width:100%;background:#f5f5f3"></div>
<div class="hl" style="left:0;top:201.90px;width:100%;background:#f5f5f3"></div>
<div class="hl" style="left:0;top:220.00px;width:100%;background:#f5f5f3"></div>
<div class="hl" style="left:0;top:238.10px;width:100%;background:#f5f5f3"></div>
<div class="hl" style="left:0;top:256.20px;width:100%;background:#f5f5f3"></div>
<div class="hl" style="left:0;top:274.30px;width:100%;background:#f5f5f3"></div>
<div class="abs" style="left:0;top:22.20px;width:276.0px;height:18px;line-height:18px;text-align:center;font-size:10.5px;color:#222"><span class="n" style="transform:scaleX(.88)">84</span></div>
<div class="abs" style="left:334.5px;top:20.60px;height:18px;line-height:18px;font-size:10.5px;color:#222"><span class="n" style="transform-origin:left center;transform:scaleX(.88)">84</span></div>
<div class="abs" style="left:0;top:40.25px;width:276.0px;height:18px;line-height:18px;text-align:center;font-size:10.5px;color:#222"><span class="n" style="transform:scaleX(.88)">48</span></div>
<div class="abs" style="left:334.5px;top:38.65px;height:18px;line-height:18px;font-size:10.5px;color:#222"><span class="n" style="transform-origin:left center;transform:scaleX(.88)">48</span></div>
<div class="abs" style="left:0;top:58.30px;width:276.0px;height:18px;line-height:18px;text-align:center;font-size:10.5px;color:#222"><span class="n" style="transform:scaleX(.88)">12007</span></div>
<div class="abs" style="left:334.5px;top:56.70px;height:18px;line-height:18px;font-size:10.5px;color:#222"><span class="n" style="transform-origin:left center;transform:scaleX(.88)">12007</span></div>
<div class="abs" style="left:0;top:76.35px;width:276.0px;height:18px;line-height:18px;text-align:center;font-size:10.5px;color:#222"><span class="n" style="transform:scaleX(.88)">115</span></div>
<div class="abs" style="left:334.5px;top:74.75px;height:18px;line-height:18px;font-size:10.5px;color:#222"><span class="n" style="transform-origin:left center;transform:scaleX(.88)">115</span></div>
<div class="abs" style="left:0;top:94.40px;width:276.0px;height:18px;line-height:18px;text-align:center;font-size:10.5px;color:#222"><span class="n" style="transform:scaleX(.88)">42</span></div>
<div class="abs" style="left:334.5px;top:92.80px;height:18px;line-height:18px;font-size:10.5px;color:#222"><span class="n" style="transform-origin:left center;transform:scaleX(.88)">42</span></div>
<div class="abs" style="left:0;top:112.45px;width:276.0px;height:18px;line-height:18px;text-align:center;font-size:10.5px;color:#222"><span class="n" style="transform:scaleX(.88)">2</span></div>
<div class="abs" style="left:334.5px;top:110.85px;height:18px;line-height:18px;font-size:10.5px;color:#222"><span class="n" style="transform-origin:left center;transform:scaleX(.88)">2</span></div>
<div class="abs" style="left:0;top:130.50px;width:276.0px;height:18px;line-height:18px;text-align:center;font-size:10.5px;color:#222"><span class="n" style="transform:scaleX(.88)">22</span></div>
<div class="abs" style="left:334.5px;top:128.90px;height:18px;line-height:18px;font-size:10.5px;color:#222"><span class="n" style="transform-origin:left center;transform:scaleX(.88)">22</span></div>
<div class="abs" style="left:0;top:148.55px;width:276.0px;height:18px;line-height:18px;text-align:center;font-size:10.5px;color:#222"><span class="n" style="transform:scaleX(.88)">62</span></div>
<div class="abs" style="left:334.5px;top:146.95px;height:18px;line-height:18px;font-size:10.5px;color:#222"><span class="n" style="transform-origin:left center;transform:scaleX(.88)">62</span></div>
<div class="abs" style="left:0;top:166.60px;width:276.0px;height:18px;line-height:18px;text-align:center;font-size:10.5px;color:#222"><span class="n" style="transform:scaleX(.88)">73</span></div>
<div class="abs" style="left:334.5px;top:165.00px;height:18px;line-height:18px;font-size:10.5px;color:#222"><span class="n" style="transform-origin:left center;transform:scaleX(.88)">73</span></div>
<div class="abs" style="left:0;top:184.65px;width:276.0px;height:18px;line-height:18px;text-align:center;font-size:10.5px;color:#222"><span class="n" style="transform:scaleX(.88)">98</span></div>
<div class="abs" style="left:334.5px;top:183.05px;height:18px;line-height:18px;font-size:10.5px;color:#222"><span class="n" style="transform-origin:left center;transform:scaleX(.88)">98</span></div>
<div class="abs" style="left:0;top:202.70px;width:276.0px;height:18px;line-height:18px;text-align:center;font-size:10.5px;color:#222"><span class="n" style="transform:scaleX(.88)">34</span></div>
<div class="abs" style="left:334.5px;top:201.10px;height:18px;line-height:18px;font-size:10.5px;color:#222"><span class="n" style="transform-origin:left center;transform:scaleX(.88)">34</span></div>
<div class="abs" style="left:0;top:220.75px;width:276.0px;height:18px;line-height:18px;text-align:center;font-size:10.5px;color:#222"><span class="n" style="transform:scaleX(.88)">125</span></div>
<div class="abs" style="left:334.5px;top:219.15px;height:18px;line-height:18px;font-size:10.5px;color:#222"><span class="n" style="transform-origin:left center;transform:scaleX(.88)">125</span></div>
</div>
<div class="bar" style="left:800px;top:908.5px;width:280px;height:14.6px"></div>
<div class="notch" style="left:780px;top:908px;width:93.2px;height:8px;border-radius:0 0 7px 7px"></div>
<div class="frame" style="left:595.3px;top:588.6px;width:477.3px;height:320.6px;border-radius:17px 17px 0 0"></div>
<div class="screen" style="left:611.0px;top:608.75px;width:446.5px;height:278.45000000000005px;font-size:10px;border-bottom:1.5px solid #b4bdd3">
<div class="abs" style="left:0;top:0;width:154.75px;height:40.85000000000002px;background:#3d8227"></div>
<div class="abs" style="left:154.75px;top:0;width:400px;height:23.850000000000023px;background:#b9e8a9"></div>
<div class="abs" style="left:154.75px;top:23.850000000000023px;width:400px;height:17.0px;background:#3d8227"></div>
<div class="hl" style="left:0;top:23.350000000000023px;width:154.75px;background:#5a9a45"></div>
<div class="abs" style="left:0;top:40.85000000000002px;width:154.75px;height:195.0px;background:#f0f8ec"></div>
<div class="hl" style="left:0;top:56.60px;width:100%;background:#e9ece3"></div>
<div class="hl" style="left:0;top:72.85px;width:100%;background:#e9ece3"></div>
<div class="hl" style="left:0;top:89.10px;width:100%;background:#e9ece3"></div>
<div class="hl" style="left:0;top:105.35px;width:100%;background:#e9ece3"></div>
<div class="hl" style="left:0;top:121.60px;width:100%;background:#e9ece3"></div>
<div class="hl" style="left:0;top:137.85px;width:100%;background:#e9ece3"></div>
<div class="hl" style="left:0;top:154.10px;width:100%;background:#e9ece3"></div>
<div class="hl" style="left:0;top:170.35px;width:100%;background:#e9ece3"></div>
<div class="hl" style="left:0;top:186.60px;width:100%;background:#e9ece3"></div>
<div class="hl" style="left:0;top:202.85px;width:100%;background:#e9ece3"></div>
<div class="hl" style="left:0;top:219.10px;width:100%;background:#e9ece3"></div>
<div class="hl" style="left:0;top:235.35px;width:100%;background:#e9ece3"></div>
<div class="hl" style="left:0;top:251.60px;width:100%;background:#e9ece3"></div>
<div class="hl" style="left:0;top:267.85px;width:100%;background:#e9ece3"></div>
<div class="vl" style="left:74.25px;top:40.85000000000002px;height:227.29999999999995px;background:#e6eae0"></div>
<div class="vl" style="left:154.25px;top:40.85000000000002px;height:227.29999999999995px;background:#e6eae0"></div>
<div class="vl" style="left:154.25px;top:23.850000000000023px;height:17.0px;background:#9ccf8a"></div>
<div class="vl" style="left:206.50px;top:40.85000000000002px;height:227.29999999999995px;background:#e6eae0"></div>
<div class="vl" style="left:206.50px;top:23.850000000000023px;height:17.0px;background:#9ccf8a"></div>
<div class="vl" style="left:258.75px;top:40.85000000000002px;height:227.29999999999995px;background:#e6eae0"></div>
<div class="vl" style="left:258.75px;top:23.850000000000023px;height:17.0px;background:#9ccf8a"></div>
<div class="vl" style="left:311.00px;top:40.85000000000002px;height:227.29999999999995px;background:#e6eae0"></div>
<div class="vl" style="left:311.00px;top:23.850000000000023px;height:17.0px;background:#9ccf8a"></div>
<div class="vl" style="left:363.25px;top:40.85000000000002px;height:227.29999999999995px;background:#e6eae0"></div>
<div class="vl" style="left:363.25px;top:23.850000000000023px;height:17.0px;background:#9ccf8a"></div>
<div class="vl" style="left:415.50px;top:40.85000000000002px;height:227.29999999999995px;background:#e6eae0"></div>
<div class="vl" style="left:415.50px;top:23.850000000000023px;height:17.0px;background:#9ccf8a"></div>
<div class="vl" style="left:74.25px;top:23.850000000000023px;height:17.0px;background:#6aa656"></div>
<div class="vl" style="left:258.75px;top:0;height:23.850000000000023px;background:#a3d892"></div>
<div class="vl" style="left:363.25px;top:0;height:23.850000000000023px;background:#a3d892"></div>
<div class="abs" style="left:154.75px;top:0;width:104.5px;height:23.850000000000023px;line-height:23.850000000000023px;text-align:center;font-weight:700;font-size:10.5px;color:#1d2a18"><span class="n">Jan-2023</span></div>
<div class="abs" style="left:259.25px;top:0;width:104.5px;height:23.850000000000023px;line-height:23.850000000000023px;text-align:center;font-weight:700;font-size:10.5px;color:#1d2a18"><span class="n">Feb-2023</span></div>
<div class="abs" style="left:363.75px;top:0;width:104.5px;height:23.850000000000023px;line-height:23.850000000000023px;text-align:center;font-weight:700;font-size:10.5px;color:#1d2a18"><span class="n">Mar-2023</span></div>
<div class="abs" style="left:-83.35000000000002px;top:23.850000000000023px;width:158.10000000000002px;height:17.0px;line-height:18.0px;text-align:center;font-weight:700;font-size:9.7px;color:#f3fbef"><span class="n">KPI Name</span></div>
<div class="abs" style="left:74.75px;top:23.850000000000023px;width:80.0px;height:17.0px;line-height:18.0px;text-align:center;font-weight:700;font-size:9.7px;color:#f3fbef"><span class="n">Unit</span></div>
<div class="abs" style="left:154.75px;top:23.850000000000023px;width:52.25px;height:17.0px;line-height:18.0px;text-align:center;font-weight:700;font-size:9.7px;color:#f3fbef"><span class="n">MTD</span></div>
<div class="abs" style="left:207.0px;top:23.850000000000023px;width:52.25px;height:17.0px;line-height:18.0px;text-align:center;font-weight:700;font-size:9.7px;color:#f3fbef"><span class="n">YTD</span></div>
<div class="abs" style="left:259.25px;top:23.850000000000023px;width:52.25px;height:17.0px;line-height:18.0px;text-align:center;font-weight:700;font-size:9.7px;color:#f3fbef"><span class="n">MTD</span></div>
<div class="abs" style="left:311.5px;top:23.850000000000023px;width:52.25px;height:17.0px;line-height:18.0px;text-align:center;font-weight:700;font-size:9.7px;color:#f3fbef"><span class="n">YTD</span></div>
<div class="abs" style="left:363.75px;top:23.850000000000023px;width:52.25px;height:17.0px;line-height:18.0px;text-align:center;font-weight:700;font-size:9.7px;color:#f3fbef"><span class="n">MTD</span></div>
<div class="abs" style="left:416.0px;top:23.850000000000023px;width:52.25px;height:17.0px;line-height:18.0px;text-align:center;font-weight:700;font-size:9.7px;color:#f3fbef"><span class="n">YTD</span></div>
<div class="abs" style="left:-83.35000000000002px;top:40.85px;width:158.10000000000002px;height:16.25px;line-height:18.4px;text-align:center;white-space:nowrap;color:#1c1c1c;font-size:8.8px"><span class="n" style="transform:scaleX(1.0)">Service Request Resolution Rate</span></div>
<div class="abs" style="left:74.75px;top:40.85px;width:80.0px;height:16.25px;line-height:18.4px;text-align:center;white-space:nowrap;color:#1c1c1c;font-size:8.8px"><span class="n" style="transform:scaleX(0.94)">%</span></div>
<div class="abs" style="left:154.75px;top:40.85px;width:52.25px;height:16.25px;line-height:18.4px;text-align:center;white-space:nowrap;color:#1c1c1c;font-size:8.8px"><span class="n" style="transform:scaleX(0.94)">82.32</span></div>
<div class="abs" style="left:207.0px;top:40.85px;width:52.25px;height:16.25px;line-height:18.4px;text-align:center;white-space:nowrap;color:#1c1c1c;font-size:8.8px"><span class="n" style="transform:scaleX(0.94)">66.36</span></div>
<div class="abs" style="left:259.25px;top:40.85px;width:52.25px;height:16.25px;line-height:18.4px;text-align:center;white-space:nowrap;color:#1c1c1c;font-size:8.8px"><span class="n" style="transform:scaleX(0.94)">51.75</span></div>
<div class="abs" style="left:311.5px;top:40.85px;width:52.25px;height:16.25px;line-height:18.4px;text-align:center;white-space:nowrap;color:#1c1c1c;font-size:8.8px"><span class="n" style="transform:scaleX(0.94)">143.82</span></div>
<div class="abs" style="left:363.75px;top:40.85px;width:52.25px;height:16.25px;line-height:18.4px;text-align:center;white-space:nowrap;color:#1c1c1c;font-size:8.8px"><span class="n" style="transform:scaleX(0.94)">66.36</span></div>
<div class="abs" style="left:417.5px;top:40.85px;width:52.25px;height:16.25px;line-height:18.4px;text-align:center;white-space:nowrap;color:#1c1c1c;font-size:8.8px"><span class="n" style="transform:scaleX(0.94)">234.43</span></div>
<div class="abs" style="left:-83.35000000000002px;top:57.10px;width:158.10000000000002px;height:16.25px;line-height:18.4px;text-align:center;white-space:nowrap;color:#1c1c1c;font-size:8.8px"><span class="n" style="transform:scaleX(1.0)">Renewable Energy Usage</span></div>
<div class="abs" style="left:74.75px;top:57.10px;width:80.0px;height:16.25px;line-height:18.4px;text-align:center;white-space:nowrap;color:#1c1c1c;font-size:8.8px"><span class="n" style="transform:scaleX(0.94)">%</span></div>
<div class="abs" style="left:154.75px;top:57.10px;width:52.25px;height:16.25px;line-height:18.4px;text-align:center;white-space:nowrap;color:#1c1c1c;font-size:8.8px"><span class="n" style="transform:scaleX(0.94)">49.44</span></div>
<div class="abs" style="left:207.0px;top:57.10px;width:52.25px;height:16.25px;line-height:18.4px;text-align:center;white-space:nowrap;color:#1c1c1c;font-size:8.8px"><span class="n" style="transform:scaleX(0.94)">59.04</span></div>
<div class="abs" style="left:259.25px;top:57.10px;width:52.25px;height:16.25px;line-height:18.4px;text-align:center;white-space:nowrap;color:#1c1c1c;font-size:8.8px"><span class="n" style="transform:scaleX(0.94)">27.30</span></div>
<div class="abs" style="left:311.5px;top:57.10px;width:52.25px;height:16.25px;line-height:18.4px;text-align:center;white-space:nowrap;color:#1c1c1c;font-size:8.8px"><span class="n" style="transform:scaleX(0.94)">93.79</span></div>
<div class="abs" style="left:363.75px;top:57.10px;width:52.25px;height:16.25px;line-height:18.4px;text-align:center;white-space:nowrap;color:#1c1c1c;font-size:8.8px"><span class="n" style="transform:scaleX(0.94)">42.77</span></div>
<div class="abs" style="left:417.5px;top:57.10px;width:52.25px;height:16.25px;line-height:18.4px;text-align:center;white-space:nowrap;color:#1c1c1c;font-size:8.8px"><span class="n" style="transform:scaleX(0.94)">113.65</span></div>
<div class="abs" style="left:-83.35000000000002px;top:73.35px;width:158.10000000000002px;height:16.25px;line-height:18.4px;text-align:center;white-space:nowrap;color:#1c1c1c;font-size:8.8px"><span class="n" style="transform:scaleX(1.0)">Streetlight Energy Consumption</span></div>
<div class="abs" style="left:74.75px;top:73.35px;width:80.0px;height:16.25px;line-height:18.4px;text-align:center;white-space:nowrap;color:#1c1c1c;font-size:8.8px"><span class="n" style="transform:scaleX(1.0)">kWh</span></div>
<div class="abs" style="left:154.75px;top:73.35px;width:52.25px;height:16.25px;line-height:18.4px;text-align:center;white-space:nowrap;color:#1c1c1c;font-size:8.8px"><span class="n" style="transform:scaleX(0.94)">13,087.63</span></div>
<div class="abs" style="left:207.0px;top:73.35px;width:52.25px;height:16.25px;line-height:18.4px;text-align:center;white-space:nowrap;color:#1c1c1c;font-size:8.8px"><span class="n" style="transform:scaleX(0.94)">13,687.98</span></div>
<div class="abs" style="left:259.25px;top:73.35px;width:52.25px;height:16.25px;line-height:18.4px;text-align:center;white-space:nowrap;color:#1c1c1c;font-size:8.8px"><span class="n" style="transform:scaleX(0.94)">14,287.14</span></div>
<div class="abs" style="left:311.5px;top:73.35px;width:52.25px;height:16.25px;line-height:18.4px;text-align:center;white-space:nowrap;color:#1c1c1c;font-size:8.8px"><span class="n" style="transform:scaleX(0.94)">25,693.91</span></div>
<div class="abs" style="left:363.75px;top:73.35px;width:52.25px;height:16.25px;line-height:18.4px;text-align:center;white-space:nowrap;color:#1c1c1c;font-size:8.8px"><span class="n" style="transform:scaleX(0.94)">11,397.15</span></div>
<div class="abs" style="left:417.5px;top:73.35px;width:52.25px;height:16.25px;line-height:18.4px;text-align:center;white-space:nowrap;color:#1c1c1c;font-size:8.8px"><span class="n" style="transform:scaleX(0.94)">32,048.46</span></div>
<div class="abs" style="left:-83.35000000000002px;top:89.60px;width:158.10000000000002px;height:16.25px;line-height:18.4px;text-align:center;white-space:nowrap;color:#1c1c1c;font-size:8.8px"><span class="n" style="transform:scaleX(1.0)">Air Quality Index (AQI)</span></div>
<div class="abs" style="left:74.75px;top:89.60px;width:80.0px;height:16.25px;line-height:18.4px;text-align:center;white-space:nowrap;color:#1c1c1c;font-size:8.8px"><span class="n" style="transform:scaleX(1.0)">AQI</span></div>
<div class="abs" style="left:154.75px;top:89.60px;width:52.25px;height:16.25px;line-height:18.4px;text-align:center;white-space:nowrap;color:#1c1c1c;font-size:8.8px"><span class="n" style="transform:scaleX(0.94)">90.85</span></div>
<div class="abs" style="left:207.0px;top:89.60px;width:52.25px;height:16.25px;line-height:18.4px;text-align:center;white-space:nowrap;color:#1c1c1c;font-size:8.8px"><span class="n" style="transform:scaleX(0.94)">143.75</span></div>
<div class="abs" style="left:259.25px;top:89.60px;width:52.25px;height:16.25px;line-height:18.4px;text-align:center;white-space:nowrap;color:#1c1c1c;font-size:8.8px"><span class="n" style="transform:scaleX(0.94)">106.40</span></div>
<div class="abs" style="left:311.5px;top:89.60px;width:52.25px;height:16.25px;line-height:18.4px;text-align:center;white-space:nowrap;color:#1c1c1c;font-size:8.8px"><span class="n" style="transform:scaleX(0.94)">241.50</span></div>
<div class="abs" style="left:363.75px;top:89.60px;width:52.25px;height:16.25px;line-height:18.4px;text-align:center;white-space:nowrap;color:#1c1c1c;font-size:8.8px"><span class="n" style="transform:scaleX(0.94)">90.00</span></div>
<div class="abs" style="left:417.5px;top:89.60px;width:52.25px;height:16.25px;line-height:18.4px;text-align:center;white-space:nowrap;color:#1c1c1c;font-size:8.8px"><span class="n" style="transform:scaleX(0.94)">372.58</span></div>
<div class="abs" style="left:-83.35000000000002px;top:105.85px;width:158.10000000000002px;height:16.25px;line-height:18.4px;text-align:center;white-space:nowrap;color:#1c1c1c;font-size:8.8px"><span class="n" style="transform:scaleX(1.0)">Waste Recycling Rate</span></div>
<div class="abs" style="left:74.75px;top:105.85px;width:80.0px;height:16.25px;line-height:18.4px;text-align:center;white-space:nowrap;color:#1c1c1c;font-size:8.8px"><span class="n" style="transform:scaleX(0.94)">%</span></div>
<div class="abs" style="left:154.75px;top:105.85px;width:52.25px;height:16.25px;line-height:18.4px;text-align:center;white-space:nowrap;color:#1c1c1c;font-size:8.8px"><span class="n" style="transform:scaleX(0.94)">44.10</span></div>
<div class="abs" style="left:207.0px;top:105.85px;width:52.25px;height:16.25px;line-height:18.4px;text-align:center;white-space:nowrap;color:#1c1c1c;font-size:8.8px"><span class="n" style="transform:scaleX(0.94)">35.70</span></div>
<div class="abs" style="left:259.25px;top:105.85px;width:52.25px;height:16.25px;line-height:18.4px;text-align:center;white-space:nowrap;color:#1c1c1c;font-size:8.8px"><span class="n" style="transform:scaleX(0.94)">49.72</span></div>
<div class="abs" style="left:311.5px;top:105.85px;width:52.25px;height:16.25px;line-height:18.4px;text-align:center;white-space:nowrap;color:#1c1c1c;font-size:8.8px"><span class="n" style="transform:scaleX(0.94)">67.94</span></div>
<div class="abs" style="left:363.75px;top:105.85px;width:52.25px;height:16.25px;line-height:18.4px;text-align:center;white-space:nowrap;color:#1c1c1c;font-size:8.8px"><span class="n" style="transform:scaleX(0.94)">27.26</span></div>
<div class="abs" style="left:417.5px;top:105.85px;width:52.25px;height:16.25px;line-height:18.4px;text-align:center;white-space:nowrap;color:#1c1c1c;font-size:8.8px"><span class="n" style="transform:scaleX(0.94)">118.65</span></div>
<div class="abs" style="left:-83.35000000000002px;top:122.10px;width:158.10000000000002px;height:16.25px;line-height:18.4px;text-align:center;white-space:nowrap;color:#1c1c1c;font-size:8.8px"><span class="n" style="transform:scaleX(1.0)">Emergency Response Time</span></div>
<div class="abs" style="left:74.75px;top:122.10px;width:80.0px;height:16.25px;line-height:18.4px;text-align:center;white-space:nowrap;color:#1c1c1c;font-size:8.8px"><span class="n" style="transform:scaleX(1.0)">Minutes</span></div>
<div class="abs" style="left:154.75px;top:122.10px;width:52.25px;height:16.25px;line-height:18.4px;text-align:center;white-space:nowrap;color:#1c1c1c;font-size:8.8px"><span class="n" style="transform:scaleX(0.94)">15.20</span></div>
<div class="abs" style="left:207.0px;top:122.10px;width:52.25px;height:16.25px;line-height:18.4px;text-align:center;white-space:nowrap;color:#1c1c1c;font-size:8.8px"><span class="n" style="transform:scaleX(0.94)">2.32</span></div>
<div class="abs" style="left:259.25px;top:122.10px;width:52.25px;height:16.25px;line-height:18.4px;text-align:center;white-space:nowrap;color:#1c1c1c;font-size:8.8px"><span class="n" style="transform:scaleX(0.94)">18.75</span></div>
<div class="abs" style="left:311.5px;top:122.10px;width:52.25px;height:16.25px;line-height:18.4px;text-align:center;white-space:nowrap;color:#1c1c1c;font-size:8.8px"><span class="n" style="transform:scaleX(0.94)">14.28</span></div>
<div class="abs" style="left:363.75px;top:122.10px;width:52.25px;height:16.25px;line-height:18.4px;text-align:center;white-space:nowrap;color:#1c1c1c;font-size:8.8px"><span class="n" style="transform:scaleX(0.94)">15.47</span></div>
<div class="abs" style="left:417.5px;top:122.10px;width:52.25px;height:16.25px;line-height:18.4px;text-align:center;white-space:nowrap;color:#1c1c1c;font-size:8.8px"><span class="n" style="transform:scaleX(0.94)">30.05</span></div>
<div class="abs" style="left:-83.35000000000002px;top:138.35px;width:158.10000000000002px;height:16.25px;line-height:18.4px;text-align:center;white-space:nowrap;color:#1c1c1c;font-size:8.8px"><span class="n" style="transform:scaleX(1.0)">Crime Rate per 1,000 Population</span></div>
<div class="abs" style="left:74.75px;top:138.35px;width:80.0px;height:16.25px;line-height:18.4px;text-align:center;white-space:nowrap;color:#1c1c1c;font-size:8.8px"><span class="n" style="transform:scaleX(1.0)">Rate</span></div>
<div class="abs" style="left:154.75px;top:138.35px;width:52.25px;height:16.25px;line-height:18.4px;text-align:center;white-space:nowrap;color:#1c1c1c;font-size:8.8px"><span class="n" style="transform:scaleX(0.94)">20.75</span></div>
<div class="abs" style="left:207.0px;top:138.35px;width:52.25px;height:16.25px;line-height:18.4px;text-align:center;white-space:nowrap;color:#1c1c1c;font-size:8.8px"><span class="n" style="transform:scaleX(0.94)">18.48</span></div>
<div class="abs" style="left:259.25px;top:138.35px;width:52.25px;height:16.25px;line-height:18.4px;text-align:center;white-space:nowrap;color:#1c1c1c;font-size:8.8px"><span class="n" style="transform:scaleX(0.94)">19.80</span></div>
<div class="abs" style="left:311.5px;top:138.35px;width:52.25px;height:16.25px;line-height:18.4px;text-align:center;white-space:nowrap;color:#1c1c1c;font-size:8.8px"><span class="n" style="transform:scaleX(0.94)">35.20</span></div>
<div class="abs" style="left:363.75px;top:138.35px;width:52.25px;height:16.25px;line-height:18.4px;text-align:center;white-space:nowrap;color:#1c1c1c;font-size:8.8px"><span class="n" style="transform:scaleX(0.94)">30.50</span></div>
<div class="abs" style="left:417.5px;top:138.35px;width:52.25px;height:16.25px;line-height:18.4px;text-align:center;white-space:nowrap;color:#1c1c1c;font-size:8.8px"><span class="n" style="transform:scaleX(0.94)">71.05</span></div>
<div class="abs" style="left:-83.35000000000002px;top:154.60px;width:158.10000000000002px;height:16.25px;line-height:18.4px;text-align:center;white-space:nowrap;color:#1c1c1c;font-size:8.8px"><span class="n" style="transform:scaleX(1.0)">Smart Sensor Coverage</span></div>
<div class="abs" style="left:74.75px;top:154.60px;width:80.0px;height:16.25px;line-height:18.4px;text-align:center;white-space:nowrap;color:#1c1c1c;font-size:8.8px"><span class="n" style="transform:scaleX(0.94)">%</span></div>
<div class="abs" style="left:154.75px;top:154.60px;width:52.25px;height:16.25px;line-height:18.4px;text-align:center;white-space:nowrap;color:#1c1c1c;font-size:8.8px"><span class="n" style="transform:scaleX(0.94)">61.20</span></div>
<div class="abs" style="left:207.0px;top:154.60px;width:52.25px;height:16.25px;line-height:18.4px;text-align:center;white-space:nowrap;color:#1c1c1c;font-size:8.8px"><span class="n" style="transform:scaleX(0.94)">51.46</span></div>
<div class="abs" style="left:259.25px;top:154.60px;width:52.25px;height:16.25px;line-height:18.4px;text-align:center;white-space:nowrap;color:#1c1c1c;font-size:8.8px"><span class="n" style="transform:scaleX(0.94)">44.00</span></div>
<div class="abs" style="left:311.5px;top:154.60px;width:52.25px;height:16.25px;line-height:18.4px;text-align:center;white-space:nowrap;color:#1c1c1c;font-size:8.8px"><span class="n" style="transform:scaleX(0.94)">89.60</span></div>
<div class="abs" style="left:363.75px;top:154.60px;width:52.25px;height:16.25px;line-height:18.4px;text-align:center;white-space:nowrap;color:#1c1c1c;font-size:8.8px"><span class="n" style="transform:scaleX(0.94)">66.69</span></div>
<div class="abs" style="left:417.5px;top:154.60px;width:52.25px;height:16.25px;line-height:18.4px;text-align:center;white-space:nowrap;color:#1c1c1c;font-size:8.8px"><span class="n" style="transform:scaleX(0.94)">190.32</span></div>
<div class="abs" style="left:-83.35000000000002px;top:170.85px;width:158.10000000000002px;height:16.25px;line-height:18.4px;text-align:center;white-space:nowrap;color:#1c1c1c;font-size:8.8px"><span class="n" style="transform:scaleX(1.0)">Average Traffic Congestion</span></div>
<div class="abs" style="left:74.75px;top:170.85px;width:80.0px;height:16.25px;line-height:18.4px;text-align:center;white-space:nowrap;color:#1c1c1c;font-size:8.8px"><span class="n" style="transform:scaleX(0.94)">%</span></div>
<div class="abs" style="left:154.75px;top:170.85px;width:52.25px;height:16.25px;line-height:18.4px;text-align:center;white-space:nowrap;color:#1c1c1c;font-size:8.8px"><span class="n" style="transform:scaleX(0.94)">58.40</span></div>
<div class="abs" style="left:207.0px;top:170.85px;width:52.25px;height:16.25px;line-height:18.4px;text-align:center;white-space:nowrap;color:#1c1c1c;font-size:8.8px"><span class="n" style="transform:scaleX(0.94)">75.92</span></div>
<div class="abs" style="left:259.25px;top:170.85px;width:52.25px;height:16.25px;line-height:18.4px;text-align:center;white-space:nowrap;color:#1c1c1c;font-size:8.8px"><span class="n" style="transform:scaleX(0.94)">49.20</span></div>
<div class="abs" style="left:311.5px;top:170.85px;width:52.25px;height:16.25px;line-height:18.4px;text-align:center;white-space:nowrap;color:#1c1c1c;font-size:8.8px"><span class="n" style="transform:scaleX(0.94)">142.31</span></div>
<div class="abs" style="left:363.75px;top:170.85px;width:52.25px;height:16.25px;line-height:18.4px;text-align:center;white-space:nowrap;color:#1c1c1c;font-size:8.8px"><span class="n" style="transform:scaleX(0.94)">52.08</span></div>
<div class="abs" style="left:417.5px;top:170.85px;width:52.25px;height:16.25px;line-height:18.4px;text-align:center;white-space:nowrap;color:#1c1c1c;font-size:8.8px"><span class="n" style="transform:scaleX(0.94)">156.45</span></div>
<div class="abs" style="left:-83.35000000000002px;top:187.10px;width:158.10000000000002px;height:16.25px;line-height:18.4px;text-align:center;white-space:nowrap;color:#1c1c1c;font-size:8.8px"><span class="n" style="transform:scaleX(1.0)">Public Transport On-Time Performance</span></div>
<div class="abs" style="left:74.75px;top:187.10px;width:80.0px;height:16.25px;line-height:18.4px;text-align:center;white-space:nowrap;color:#1c1c1c;font-size:8.8px"><span class="n" style="transform:scaleX(0.94)">%</span></div>
<div class="abs" style="left:154.75px;top:187.10px;width:52.25px;height:16.25px;line-height:18.4px;text-align:center;white-space:nowrap;color:#1c1c1c;font-size:8.8px"><span class="n" style="transform:scaleX(0.94)">88.30</span></div>
<div class="abs" style="left:207.0px;top:187.10px;width:52.25px;height:16.25px;line-height:18.4px;text-align:center;white-space:nowrap;color:#1c1c1c;font-size:8.8px"><span class="n" style="transform:scaleX(0.94)">91.14</span></div>
<div class="abs" style="left:259.25px;top:187.10px;width:52.25px;height:16.25px;line-height:18.4px;text-align:center;white-space:nowrap;color:#1c1c1c;font-size:8.8px"><span class="n" style="transform:scaleX(0.94)">97.50</span></div>
<div class="abs" style="left:311.5px;top:187.10px;width:52.25px;height:16.25px;line-height:18.4px;text-align:center;white-space:nowrap;color:#1c1c1c;font-size:8.8px"><span class="n" style="transform:scaleX(0.94)">163.68</span></div>
<div class="abs" style="left:363.75px;top:187.10px;width:52.25px;height:16.25px;line-height:18.4px;text-align:center;white-space:nowrap;color:#1c1c1c;font-size:8.8px"><span class="n" style="transform:scaleX(0.94)">99.51</span></div>
<div class="abs" style="left:417.5px;top:187.10px;width:52.25px;height:16.25px;line-height:18.4px;text-align:center;white-space:nowrap;color:#1c1c1c;font-size:8.8px"><span class="n" style="transform:scaleX(0.94)">293.62</span></div>
<div class="abs" style="left:-83.35000000000002px;top:203.35px;width:158.10000000000002px;height:16.25px;line-height:18.4px;text-align:center;white-space:nowrap;color:#1c1c1c;font-size:8.8px"><span class="n" style="transform:scaleX(1.0)">Non-Revenue Water Loss</span></div>
<div class="abs" style="left:74.75px;top:203.35px;width:80.0px;height:16.25px;line-height:18.4px;text-align:center;white-space:nowrap;color:#1c1c1c;font-size:8.8px"><span class="n" style="transform:scaleX(0.94)">%</span></div>
<div class="abs" style="left:154.75px;top:203.35px;width:52.25px;height:16.25px;line-height:18.4px;text-align:center;white-space:nowrap;color:#1c1c1c;font-size:8.8px"><span class="n" style="transform:scaleX(0.94)">31.60</span></div>
<div class="abs" style="left:207.0px;top:203.35px;width:52.25px;height:16.25px;line-height:18.4px;text-align:center;white-space:nowrap;color:#1c1c1c;font-size:8.8px"><span class="n" style="transform:scaleX(0.94)">36.04</span></div>
<div class="abs" style="left:259.25px;top:203.35px;width:52.25px;height:16.25px;line-height:18.4px;text-align:center;white-space:nowrap;color:#1c1c1c;font-size:8.8px"><span class="n" style="transform:scaleX(0.94)">28.35</span></div>
<div class="abs" style="left:311.5px;top:203.35px;width:52.25px;height:16.25px;line-height:18.4px;text-align:center;white-space:nowrap;color:#1c1c1c;font-size:8.8px"><span class="n" style="transform:scaleX(0.94)">56.12</span></div>
<div class="abs" style="left:363.75px;top:203.35px;width:52.25px;height:16.25px;line-height:18.4px;text-align:center;white-space:nowrap;color:#1c1c1c;font-size:8.8px"><span class="n" style="transform:scaleX(0.94)">44.08</span></div>
<div class="abs" style="left:417.5px;top:203.35px;width:52.25px;height:16.25px;line-height:18.4px;text-align:center;white-space:nowrap;color:#1c1c1c;font-size:8.8px"><span class="n" style="transform:scaleX(0.94)">97.05</span></div>
<div class="abs" style="left:-83.35000000000002px;top:219.60px;width:158.10000000000002px;height:16.25px;line-height:18.4px;text-align:center;white-space:nowrap;color:#1c1c1c;font-size:8.8px"><span class="n" style="transform:scaleX(1.0)">Daily Water Supply per Capita</span></div>
<div class="abs" style="left:74.75px;top:219.60px;width:80.0px;height:16.25px;line-height:18.4px;text-align:center;white-space:nowrap;color:#1c1c1c;font-size:8.8px"><span class="n" style="transform:scaleX(1.0)">Liters</span></div>
<div class="abs" style="left:154.75px;top:219.60px;width:52.25px;height:16.25px;line-height:18.4px;text-align:center;white-space:nowrap;color:#1c1c1c;font-size:8.8px"><span class="n" style="transform:scaleX(0.94)">125.40</span></div>
<div class="abs" style="left:207.0px;top:219.60px;width:52.25px;height:16.25px;line-height:18.4px;text-align:center;white-space:nowrap;color:#1c1c1c;font-size:8.8px"><span class="n" style="transform:scaleX(0.94)">131.25</span></div>
<div class="abs" style="left:259.25px;top:219.60px;width:52.25px;height:16.25px;line-height:18.4px;text-align:center;white-space:nowrap;color:#1c1c1c;font-size:8.8px"><span class="n" style="transform:scaleX(0.94)">172.02</span></div>
<div class="abs" style="left:311.5px;top:219.60px;width:52.25px;height:16.25px;line-height:18.4px;text-align:center;white-space:nowrap;color:#1c1c1c;font-size:8.8px"><span class="n" style="transform:scaleX(0.94)">284.62</span></div>
<div class="abs" style="left:363.75px;top:219.60px;width:52.25px;height:16.25px;line-height:18.4px;text-align:center;white-space:nowrap;color:#1c1c1c;font-size:8.8px"><span class="n" style="transform:scaleX(0.94)">118.44</span></div>
<div class="abs" style="left:417.5px;top:219.60px;width:52.25px;height:16.25px;line-height:18.4px;text-align:center;white-space:nowrap;color:#1c1c1c;font-size:8.8px"><span class="n" style="transform:scaleX(0.94)">325.74</span></div>
</div>
<div class="bar" style="left:267.3px;top:1062.5px;width:603.2px;height:15px;border-radius:0 0 9px 9px"></div>
<div class="notch" style="left:528.7px;top:1062px;width:80.5px;height:8.8px;border-radius:0 0 8px 8px"></div>
<div class="frame" style="left:323.2px;top:734.2px;width:491.3px;height:329.2px;border-radius:17px 17px 0 0"></div>
<div class="screen" style="left:339.4px;top:754.6px;width:458.6px;height:286.30000000000007px">
<svg width="458.6" height="286.30000000000007" viewBox="339.4 754.6 458.6 286.30000000000007" style="position:absolute;left:0;top:0;font-family:'Liberation Sans',Arial,sans-serif">
<defs><linearGradient id="kg" x1="0" y1="0" x2="0" y2="1"><stop offset="0" stop-color="#4db1e4"/><stop offset=".45" stop-color="#3697cb"/><stop offset="1" stop-color="#1d6c99"/></linearGradient></defs>
<rect x="339.4" y="754.6" width="458.6" height="24.299999999999955" fill="url(#kg)"/>
<text x="565.2" y="772.4" text-anchor="middle" font-size="15.4" font-weight="700" fill="#f4fbff" letter-spacing=".25">KPI Trend</text>
<rect x="300" y="791.2" width="196" height="12" fill="#fdeae0" stroke="#e8977c" stroke-width="1.2"/>
<text x="436.2" y="799.7" text-anchor="end" font-size="6.95" font-weight="700" fill="#1a1a1a">Service Request Resolution Rate</text>
<rect x="508.3" y="791.2" width="197" height="12" fill="#fff" stroke="#a9d18e" stroke-width="1.1"/>
<rect x="507.8" y="790.6" width="45" height="13.2" fill="#92d050"/>
<text x="531" y="799.6" text-anchor="middle" font-size="6.7" font-weight="700" fill="#f1fbe8">KPI Group</text>
<text x="629.2" y="799.7" text-anchor="middle" font-size="7" font-weight="700" fill="#1a1a1a">Citizen Services</text>
<rect x="718.3" y="791.2" width="120" height="12" fill="#fff" stroke="#a9d18e" stroke-width="1.1"/>
<rect x="717.8" y="790.6" width="38.8" height="13.2" fill="#92d050"/>
<text x="737.4" y="799.6" text-anchor="middle" font-size="6.9" font-weight="700" fill="#f1fbe8">Unit</text>
<text x="792" y="799.7" font-size="7" font-weight="700" fill="#1a1a1a">%</text>
<rect x="300" y="814.5" width="196" height="35" fill="#fff" stroke="#a9d18e" stroke-width="1.1"/>
<rect x="508.3" y="814.5" width="330" height="35" fill="#fff" stroke="#a9d18e" stroke-width="1.1"/>
<rect x="507.8" y="814" width="45" height="36" fill="#92d050"/>
<text x="531" y="834.6" text-anchor="middle" font-size="7" font-weight="700" fill="#f1fbe8">Definition</text>
<text x="555" y="834.6" font-size="7" font-weight="700" fill="#1a1a1a">84</text>
<line x1="339.4" x2="800" y1="854.5" y2="854.5" stroke="#b7d9a3" stroke-width="1"/>
<line x1="339.4" x2="800" y1="1030.6" y2="1030.6" stroke="#b7d9a3" stroke-width="1"/>
<text x="569.3" y="869.6" text-anchor="middle" font-size="8" font-weight="700" fill="#1a1a1a">MTD Trend For Service Request Resolution Rate</text>
<line x1="339.4" x2="800" y1="993.30" y2="993.30" stroke="#e9ede6" stroke-width="1"/>
<line x1="339.4" x2="800" y1="974.78" y2="974.78" stroke="#e9ede6" stroke-width="1"/>
<line x1="339.4" x2="800" y1="956.26" y2="956.26" stroke="#e9ede6" stroke-width="1"/>
<line x1="339.4" x2="800" y1="937.74" y2="937.74" stroke="#e9ede6" stroke-width="1"/>
<line x1="339.4" x2="800" y1="919.22" y2="919.22" stroke="#e9ede6" stroke-width="1"/>
<line x1="339.4" x2="800" y1="900.70" y2="900.70" stroke="#e9ede6" stroke-width="1"/>
<line x1="339.4" x2="800" y1="882.18" y2="882.18" stroke="#e9ede6" stroke-width="1"/>
<line x1="298.45" x2="298.45" y1="882.2" y2="993.3" stroke="#e9ede6" stroke-width="1"/>
<line x1="354.55" x2="354.55" y1="882.2" y2="993.3" stroke="#e9ede6" stroke-width="1"/>
<line x1="410.65" x2="410.65" y1="882.2" y2="993.3" stroke="#e9ede6" stroke-width="1"/>
<line x1="466.75" x2="466.75" y1="882.2" y2="993.3" stroke="#e9ede6" stroke-width="1"/>
<line x1="522.85" x2="522.85" y1="882.2" y2="993.3" stroke="#e9ede6" stroke-width="1"/>
<line x1="578.95" x2="578.95" y1="882.2" y2="993.3" stroke="#e9ede6" stroke-width="1"/>
<line x1="635.05" x2="635.05" y1="882.2" y2="993.3" stroke="#e9ede6" stroke-width="1"/>
<line x1="691.15" x2="691.15" y1="882.2" y2="993.3" stroke="#e9ede6" stroke-width="1"/>
<line x1="747.25" x2="747.25" y1="882.2" y2="993.3" stroke="#e9ede6" stroke-width="1"/>
<line x1="803.35" x2="803.35" y1="882.2" y2="993.3" stroke="#e9ede6" stroke-width="1"/>
<rect x="369.30" y="920.15" width="13.3" height="73.15" fill="#8fd14f"/>
<rect x="382.60" y="931.81" width="13.3" height="61.49" fill="#d9f0d0"/>
<text x="382.60" y="1005.3" text-anchor="middle" font-size="6.4" font-weight="700" fill="#222">Mar-24</text>
<rect x="425.40" y="912.74" width="13.3" height="80.56" fill="#8fd14f"/>
<rect x="438.70" y="900.61" width="13.3" height="92.69" fill="#d9f0d0"/>
<text x="438.70" y="1005.3" text-anchor="middle" font-size="6.4" font-weight="700" fill="#222">Apr-24</text>
<rect x="481.50" y="920.15" width="13.3" height="73.15" fill="#8fd14f"/>
<rect x="494.80" y="919.41" width="13.3" height="73.89" fill="#d9f0d0"/>
<text x="494.80" y="1005.3" text-anchor="middle" font-size="6.4" font-weight="700" fill="#222">May-24</text>
<rect x="537.60" y="915.52" width="13.3" height="77.78" fill="#8fd14f"/>
<rect x="550.90" y="898.38" width="13.3" height="94.91" fill="#d9f0d0"/>
<text x="550.90" y="1005.3" text-anchor="middle" font-size="6.4" font-weight="700" fill="#222">Jun-24</text>
<rect x="593.70" y="912.74" width="13.3" height="80.56" fill="#8fd14f"/>
<rect x="607.00" y="932.09" width="13.3" height="61.21" fill="#d9f0d0"/>
<text x="607.00" y="1005.3" text-anchor="middle" font-size="6.4" font-weight="700" fill="#222">Jul-24</text>
<rect x="649.80" y="928.48" width="13.3" height="64.82" fill="#8fd14f"/>
<rect x="663.10" y="913.57" width="13.3" height="79.73" fill="#d9f0d0"/>
<text x="663.10" y="1005.3" text-anchor="middle" font-size="6.4" font-weight="700" fill="#222">Aug-24</text>
<rect x="705.90" y="927.55" width="13.3" height="65.75" fill="#8fd14f"/>
<rect x="719.20" y="914.40" width="13.3" height="78.90" fill="#d9f0d0"/>
<text x="719.20" y="1005.3" text-anchor="middle" font-size="6.4" font-weight="700" fill="#222">Sep-24</text>
<rect x="762.00" y="913.66" width="13.3" height="79.64" fill="#8fd14f"/>
<rect x="775.30" y="901.72" width="13.3" height="91.58" fill="#d9f0d0"/>
<text x="775.30" y="1005.3" text-anchor="middle" font-size="6.4" font-weight="700" fill="#222">Oct-24</text>
<rect x="818.10" y="919.22" width="13.3" height="74.08" fill="#8fd14f"/>
<rect x="831.40" y="909.96" width="13.3" height="83.34" fill="#d9f0d0"/>
<text x="831.40" y="1005.3" text-anchor="middle" font-size="6.4" font-weight="700" fill="#222">Nov-24</text>
<path d="M326.50,945.15 C335.85,941.23 363.90,924.88 382.60,921.63 C401.30,918.37 420.00,928.54 438.70,925.61 C457.40,922.68 476.10,905.53 494.80,904.03 C513.50,902.54 532.20,918.54 550.90,916.63 C569.60,914.71 588.30,890.90 607.00,892.55 C625.70,894.20 644.40,920.05 663.10,926.54 C681.80,933.02 700.50,936.24 719.20,931.44 C737.90,926.64 756.60,898.85 775.30,897.74 C794.00,896.63 822.05,920.27 831.40,924.78" fill="none" stroke="#4d9a33" stroke-width="1.3"/>
<circle cx="382.60" cy="921.63" r="2.3" fill="#fff" stroke="#4d9a33" stroke-width="1"/>
<circle cx="438.70" cy="925.61" r="2.3" fill="#fff" stroke="#4d9a33" stroke-width="1"/>
<circle cx="494.80" cy="904.03" r="2.3" fill="#fff" stroke="#4d9a33" stroke-width="1"/>
<circle cx="550.90" cy="916.63" r="2.3" fill="#fff" stroke="#4d9a33" stroke-width="1"/>
<circle cx="607.00" cy="892.55" r="2.3" fill="#fff" stroke="#4d9a33" stroke-width="1"/>
<circle cx="663.10" cy="926.54" r="2.3" fill="#fff" stroke="#4d9a33" stroke-width="1"/>
<circle cx="719.20" cy="931.44" r="2.3" fill="#fff" stroke="#4d9a33" stroke-width="1"/>
<circle cx="775.30" cy="897.74" r="2.3" fill="#fff" stroke="#4d9a33" stroke-width="1"/>
<circle cx="831.40" cy="924.78" r="2.3" fill="#fff" stroke="#4d9a33" stroke-width="1"/>
<text x="376.00" y="915.65" text-anchor="middle" font-size="5.7" font-weight="700" fill="#222">79.0</text>
<text x="392.20" y="941.31" text-anchor="middle" font-size="5.7" font-weight="700" fill="#222">66.4</text>
<text x="383.10" y="914.63" text-anchor="middle" font-size="5.7" font-weight="700" fill="#222">77.4</text>
<text x="432.10" y="908.24" text-anchor="middle" font-size="5.7" font-weight="700" fill="#222">87.0</text>
<text x="448.30" y="910.11" text-anchor="middle" font-size="5.7" font-weight="700" fill="#222">100.1</text>
<text x="439.20" y="918.61" text-anchor="middle" font-size="5.7" font-weight="700" fill="#222">73.1</text>
<text x="488.20" y="915.65" text-anchor="middle" font-size="5.7" font-weight="700" fill="#222">79.0</text>
<text x="504.40" y="928.91" text-anchor="middle" font-size="5.7" font-weight="700" fill="#222">79.8</text>
<text x="495.30" y="897.03" text-anchor="middle" font-size="5.7" font-weight="700" fill="#222">96.4</text>
<text x="544.30" y="911.02" text-anchor="middle" font-size="5.7" font-weight="700" fill="#222">84.0</text>
<text x="560.50" y="907.88" text-anchor="middle" font-size="5.7" font-weight="700" fill="#222">102.5</text>
<text x="551.40" y="909.63" text-anchor="middle" font-size="5.7" font-weight="700" fill="#222">82.8</text>
<text x="600.40" y="908.24" text-anchor="middle" font-size="5.7" font-weight="700" fill="#222">87.0</text>
<text x="616.60" y="941.59" text-anchor="middle" font-size="5.7" font-weight="700" fill="#222">66.1</text>
<text x="607.50" y="885.55" text-anchor="middle" font-size="5.7" font-weight="700" fill="#222">108.8</text>
<text x="656.50" y="923.98" text-anchor="middle" font-size="5.7" font-weight="700" fill="#222">70.0</text>
<text x="672.70" y="923.07" text-anchor="middle" font-size="5.7" font-weight="700" fill="#222">86.1</text>
<text x="663.60" y="919.54" text-anchor="middle" font-size="5.7" font-weight="700" fill="#222">72.1</text>
<text x="712.60" y="923.05" text-anchor="middle" font-size="5.7" font-weight="700" fill="#222">71.0</text>
<text x="728.80" y="923.90" text-anchor="middle" font-size="5.7" font-weight="700" fill="#222">85.2</text>
<text x="719.70" y="924.44" text-anchor="middle" font-size="5.7" font-weight="700" fill="#222">66.8</text>
<text x="768.70" y="909.16" text-anchor="middle" font-size="5.7" font-weight="700" fill="#222">86.0</text>
<text x="784.90" y="911.22" text-anchor="middle" font-size="5.7" font-weight="700" fill="#222">98.9</text>
<text x="775.80" y="890.74" text-anchor="middle" font-size="5.7" font-weight="700" fill="#222">103.2</text>
<rect x="515.4" y="1017.3" width="14.6" height="3.2" fill="#8fd14f"/>
<text x="532.3" y="1021" font-size="6.1" font-weight="700" fill="#222">Actual</text>
<rect x="559.4" y="1017.3" width="13.4" height="3.2" fill="#d9f0d0"/>
<text x="575.7" y="1021" font-size="6.1" font-weight="700" fill="#222">PY</text>
<line x1="590.6" x2="605.4" y1="1018.9" y2="1018.9" stroke="#4d9a33" stroke-width="1.2"/>
<circle cx="598" cy="1018.9" r="2" fill="#fff" stroke="#4d9a33" stroke-width="1"/>
<text x="607.7" y="1021" font-size="6.1" font-weight="700" fill="#222">Target</text>
</svg>
</div>
</body></html>
